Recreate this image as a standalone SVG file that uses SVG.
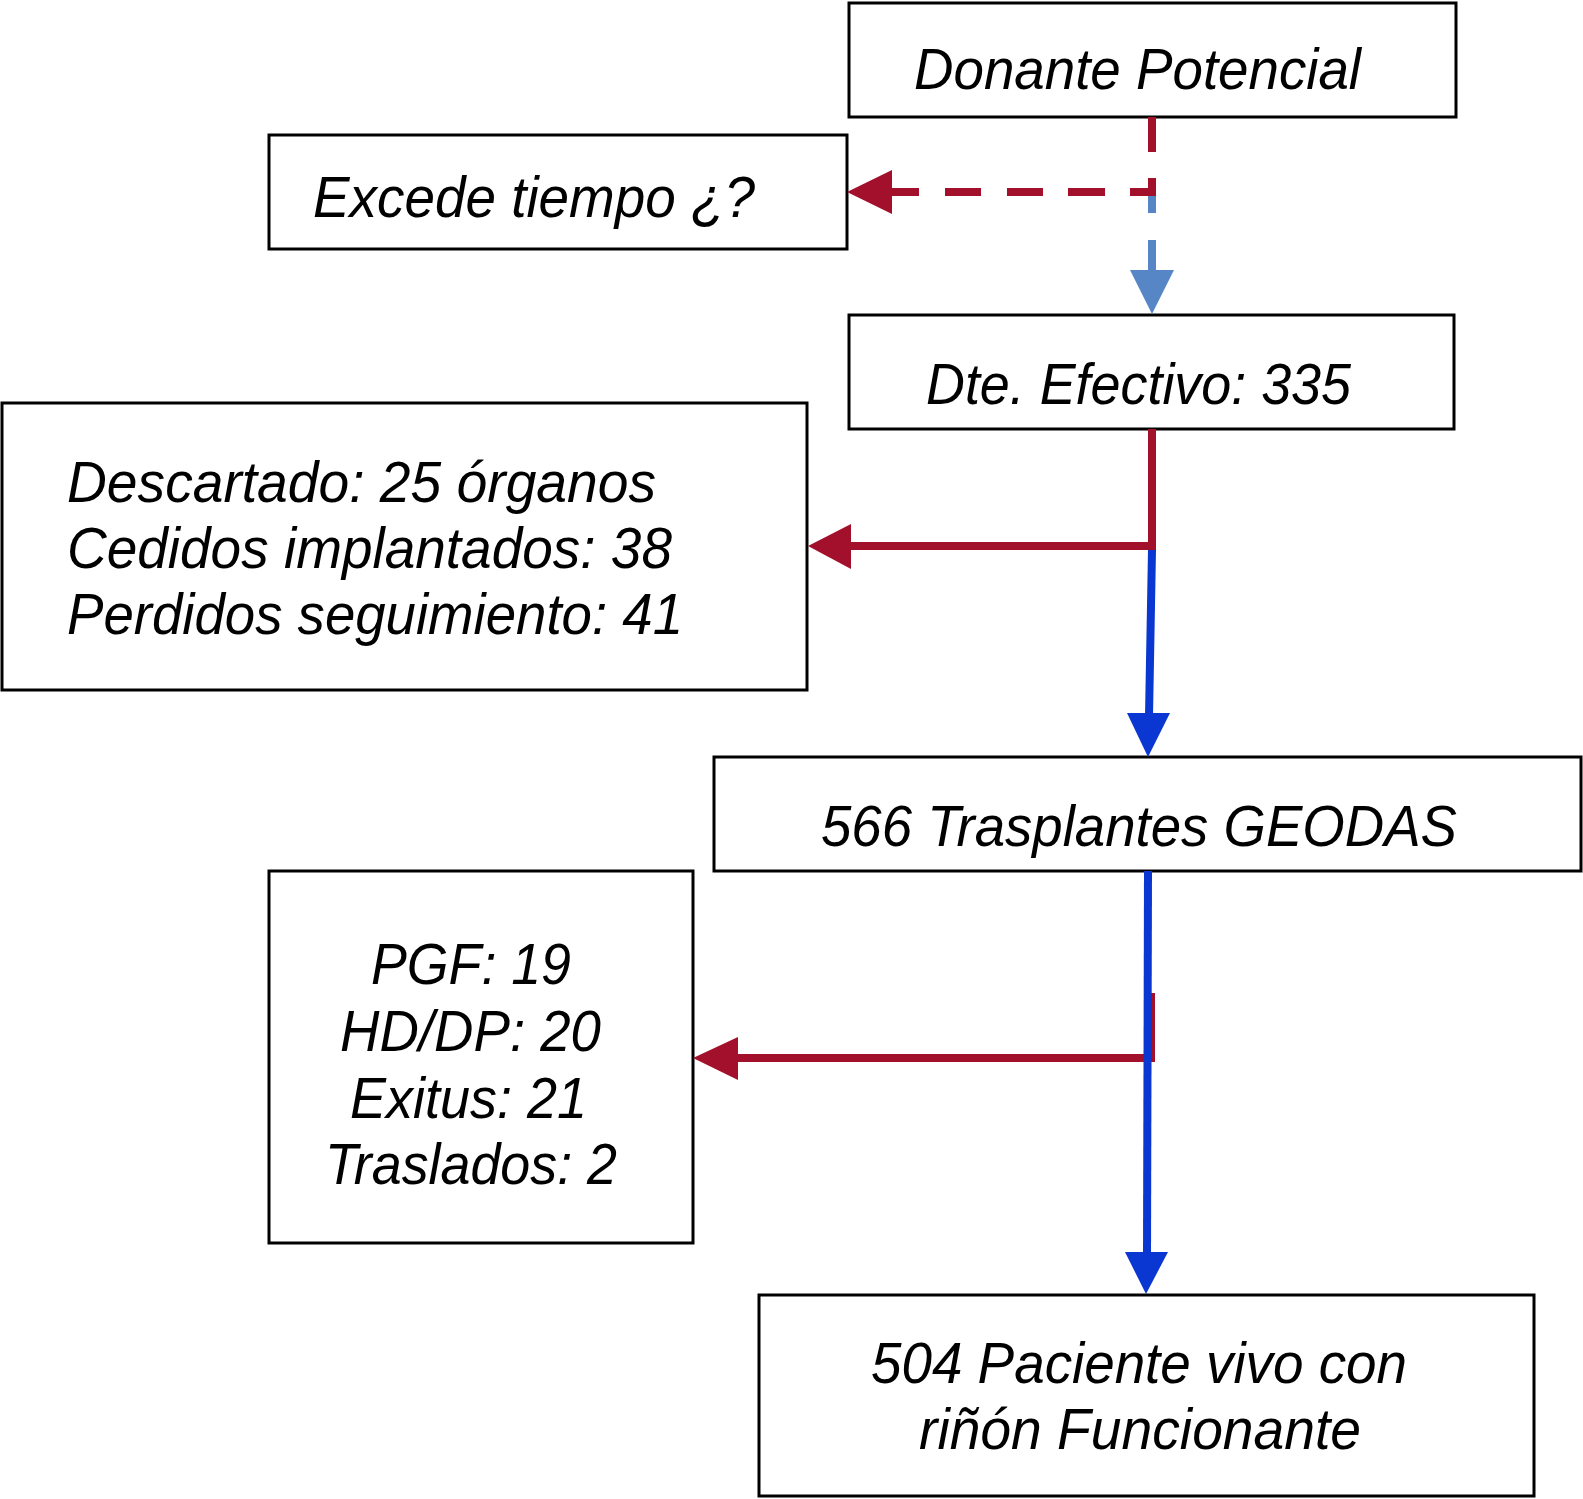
<svg xmlns="http://www.w3.org/2000/svg" width="1583" height="1499" viewBox="0 0 1583 1499">
<style>
.box{fill:#fff;stroke:#000;stroke-width:3}
.t{font-family:"Liberation Sans",Arial,sans-serif;font-style:italic;font-size:58px;fill:#000}
.red{fill:none;stroke:#a3102b;stroke-width:8}
.lblue{fill:none;stroke:#5686c6;stroke-width:8}
.blue{fill:none;stroke:#0a36d2;stroke-width:8}
</style>
<rect width="1583" height="1499" fill="#fff"/>
<g id="n1"><rect class="box" x="849" y="3" width="607" height="114"/><text class="t" x="914" y="89" textLength="447" lengthAdjust="spacingAndGlyphs">Donante Potencial</text></g>
<g id="n2"><rect class="box" x="269" y="135" width="578" height="114"/><text class="t" x="313" y="217" textLength="442" lengthAdjust="spacingAndGlyphs">Excede tiempo ¿?</text></g>
<g id="n3"><rect class="box" x="849" y="315" width="605" height="114"/><text class="t" x="926" y="404" textLength="425" lengthAdjust="spacingAndGlyphs">Dte. Efectivo: 335</text></g>
<g id="n4"><rect class="box" x="2" y="403" width="805" height="287"/>
<text class="t" x="67" y="502" textLength="589" lengthAdjust="spacingAndGlyphs">Descartado: 25 órganos</text>
<text class="t" x="67" y="568" textLength="605" lengthAdjust="spacingAndGlyphs">Cedidos implantados: 38</text>
<text class="t" x="67" y="634" textLength="616" lengthAdjust="spacingAndGlyphs">Perdidos seguimiento: 41</text></g>
<g id="n5"><rect class="box" x="714" y="757" width="867" height="114"/><text class="t" x="821" y="846" textLength="636" lengthAdjust="spacingAndGlyphs">566 Trasplantes GEODAS</text></g>
<g id="n6"><rect class="box" x="269" y="871" width="424" height="372"/>
<text class="t" x="371" y="984" textLength="200" lengthAdjust="spacingAndGlyphs">PGF: 19</text>
<text class="t" x="340" y="1051" textLength="261" lengthAdjust="spacingAndGlyphs">HD/DP: 20</text>
<text class="t" x="350" y="1118" textLength="237" lengthAdjust="spacingAndGlyphs">Exitus: 21</text>
<text class="t" x="325" y="1184" textLength="292" lengthAdjust="spacingAndGlyphs">Traslados: 2</text></g>
<g id="n7"><rect class="box" x="759" y="1295" width="775" height="201"/>
<text class="t" x="871" y="1383" textLength="536" lengthAdjust="spacingAndGlyphs">504 Paciente vivo con</text>
<text class="t" x="919" y="1449" textLength="442" lengthAdjust="spacingAndGlyphs">riñón Funcionante</text></g>
<g id="connectors">
<path class="lblue" d="M1152,196 V272" stroke-dasharray="17 27 40"/>
<polygon fill="#5686c6" points="1152,314 1130,270 1174,270"/>
<path class="red" d="M1152,117 V192" stroke-dasharray="35 26 40"/>
<path class="red" d="M1156,192 H890" stroke-dasharray="26 25 37 25 36 26 36 26 30"/>
<polygon fill="#a3102b" points="847,192 892,170 892,214"/>
<path class="red" d="M1152,429 V546 H849"/>
<polygon fill="#a3102b" points="808,546 851,524 851,569"/>
<path class="blue" d="M1152,550 L1149,716"/>
<polygon fill="#0a36d2" points="1148,757 1127,713 1170,713"/>
<path class="red" d="M1151,993 V1058 H736"/>
<polygon fill="#a3102b" points="693,1058 738,1037 738,1080"/>
<path class="blue" d="M1148,871 L1147,1255"/>
<polygon fill="#0a36d2" points="1146,1294 1125,1252 1168,1252"/>
</g>
</svg>
